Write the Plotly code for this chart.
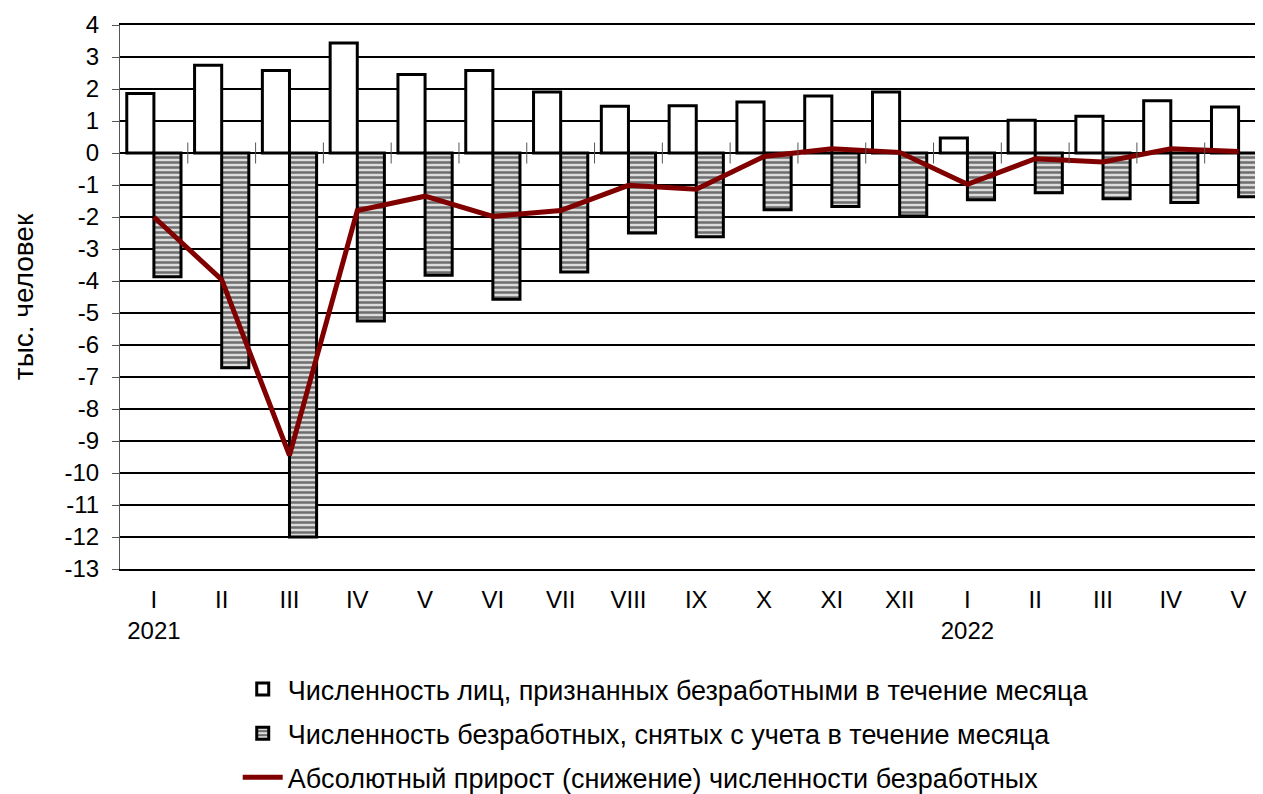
import plotly.graph_objects as go

months = ["I", "II", "III", "IV", "V", "VI", "VII", "VIII", "IX", "X", "XI", "XII",
          "I", "II", "III", "IV", "V"]
years = ["2021", "", "", "", "", "", "", "", "", "", "", "", "2022", "", "", "", ""]
y_ticks = [4, 3, 2, 1, 0, -1, -2, -3, -4, -5, -6, -7, -8, -9, -10, -11, -12, -13]

registered = [1.86, 2.74, 2.58, 3.44, 2.45, 2.58, 1.91, 1.46, 1.48, 1.59, 1.78, 1.91,
              0.47, 1.02, 1.15, 1.63, 1.44]
removed = [-3.87, -6.71, -12.0, -5.25, -3.82, -4.57, -3.72, -2.50, -2.62, -1.77, -1.67, -1.97,
           -1.46, -1.24, -1.43, -1.55, -1.37]
net_change = [-2.0, -3.96, -9.45, -1.80, -1.35, -1.98, -1.80, -1.01, -1.13, -0.11, 0.13, 0.02,
              -0.98, -0.18, -0.28, 0.13, 0.05]

name_reg = "Численность лиц, признанных безработными в течение месяца"
name_rem = "Численность безработных, снятых с учета в течение месяца"
name_net = "Абсолютный прирост (снижение) численности безработных"

x = list(range(len(months)))
ticktext = [m + ("<br>" + y if y else "") for m, y in zip(months, years)]
boundaries = [i + 0.5 for i in range(len(months) - 1)]

FONT = "Arial, 'Liberation Sans', sans-serif"

fig = go.Figure()
fig.add_trace(go.Bar(
    x=x, y=registered, name=name_reg, legendgroup="a",
    marker=dict(color="white", line=dict(color="black", width=3)),
))
fig.add_trace(go.Bar(
    x=x, y=removed, name=name_rem, legendgroup="b",
    marker=dict(color="#dcdcdc", line=dict(color="black", width=3),
                pattern=dict(shape="-", fgcolor="black", bgcolor="#dcdcdc",
                             size=5, solidity=0.5)),
))
fig.add_trace(go.Scatter(
    x=x, y=net_change, name=name_net, legendgroup="c", mode="lines",
    line=dict(color="#800000", width=5),
))
# category-boundary tick marks on the zero line
fig.add_trace(go.Scatter(
    x=boundaries, y=[0] * len(boundaries), mode="markers", showlegend=False,
    hoverinfo="skip",
    marker=dict(symbol="line-ns-open", size=15, color="#555",
                line=dict(color="#555", width=1)),
))

# the page body has an 8px margin, so the figure is sized to end at the window edge
W, H = 1255, 786
ML, MT, MB = 112, 17, 225
plot_h = H - MT - MB

xrange = [-0.5, 16.36]
fig.update_layout(
    width=W, height=H,
    margin=dict(l=ML, r=0, t=MT, b=MB, autoexpand=False),
    paper_bgcolor="white", plot_bgcolor="white",
    font=dict(family=FONT, size=24, color="black"),
    barmode="group", bargap=0.2, bargroupgap=0,
    showlegend=True,
    legend=dict(orientation="v", x=0.103, xanchor="left",
                y=-233 / plot_h, yanchor="bottom",
                traceorder="grouped", tracegroupgap=6,
                font=dict(size=27, family=FONT), itemwidth=40,
                bgcolor="rgba(0,0,0,0)"),
    xaxis=dict(range=xrange, tickmode="array", tickvals=x, ticktext=ticktext,
               showgrid=False, zeroline=False, ticks="",
               showline=True, linecolor="black", linewidth=2, mirror=True,
               ticklabelstandoff=8, tickfont=dict(size=24), automargin=False),
    yaxis=dict(range=[-13, 4], tickmode="array", tickvals=y_ticks,
               ticktext=[str(v) for v in y_ticks],
               showgrid=True, gridcolor="black", gridwidth=2,
               zeroline=True, zerolinecolor="black", zerolinewidth=2,
               showline=True, linecolor="#555", linewidth=1,
               ticks="outside", ticklen=7, tickcolor="#555",
               ticklabelstandoff=8, automargin=False,
               tickfont=dict(size=24),
               title=dict(text="тыс. человек", font=dict(size=28), standoff=32)),
)

fig.write_html("out.html")
